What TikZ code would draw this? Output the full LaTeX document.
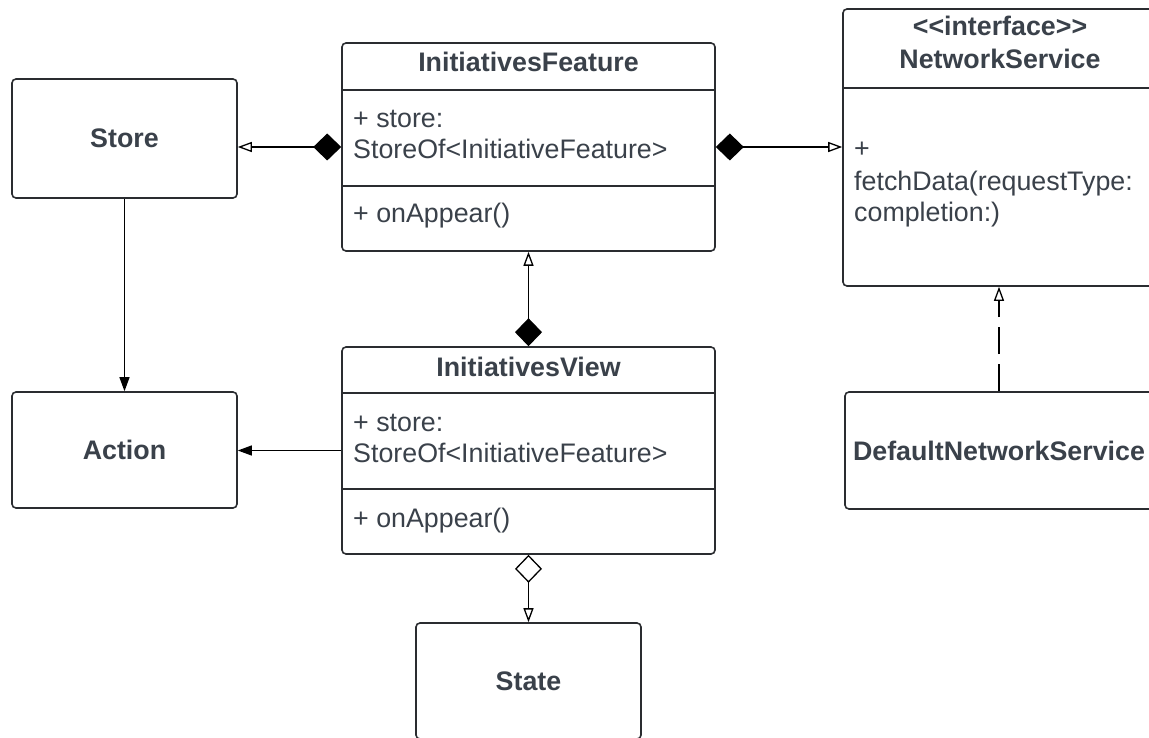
\documentclass[tikz,border=0pt]{standalone}
\usepackage{fontspec}
\setmainfont{Liberation Sans}
\usetikzlibrary{arrows.meta}
\definecolor{ink}{HTML}{3A414A}
\definecolor{edge}{HTML}{2A2C30}
\tikzset{
  box/.style={draw=edge, line width=1.6pt, rounded corners=4pt, fill=white, inner sep=0pt,
              font=\fontsize{26.8}{32}\selectfont\bfseries, text=ink},
  title/.style={font=\fontsize{26.8}{32}\selectfont\bfseries, text=ink, anchor=base, inner sep=0pt},
  member/.style={font=\fontsize{26.8}{32}\selectfont, text=ink, anchor=base west, inner sep=0pt},
  rule/.style={draw=edge, line width=1.6pt},
  link/.style={draw=black, line width=1.3pt},
  comp/.style={link, {Diamond[length=28pt,width=27pt,fill=black]}-{Triangle[open,length=14pt,width=10pt,fill=white]}},
  agg/.style={link, {Diamond[length=28pt,width=27pt,open,fill=white]}-{Triangle[open,length=14pt,width=10pt,fill=white]}},
  assoc/.style={link, -{Triangle[length=14pt,width=10pt]}},
  realize/.style={link, dash pattern=on 27pt off 10pt, -{Triangle[open,length=14pt,width=10pt,fill=white]}},
}
\begin{document}
\begin{tikzpicture}[x=1pt, y=-1pt]
  \useasboundingbox (0,0) rectangle (1149,738);
  \clip (0,0) rectangle (1149,738);
  \fill[white] (0,0) rectangle (1149,738);

  % plain boxes
  \node[box, minimum width=225pt, minimum height=119pt] (store)  at (124.5,138.5) {Store};
  \node[box, minimum width=225pt, minimum height=116pt] (action) at (124.5,450)   {Action};
  \node[box, minimum width=308pt, minimum height=117pt] (dns)    at (999,450.5)   {DefaultNetworkService};
  \node[box, minimum width=225pt, minimum height=116pt] (state)  at (528.5,681)   {State};

  % InitiativesFeature class
  \node[box, minimum width=373pt, minimum height=208pt] (feat) at (528.5,147) {};
  \node[title]  (featTitle) at (528.5,72) {InitiativesFeature};
  \draw[rule] (feat.west |- 0,90) -- (feat.east |- 0,90);
  \node[member] (featAttrA) at (353,128) {+ store:};
  \node[member] (featAttrB) at (353,159) {StoreOf<InitiativeFeature>};
  \draw[rule] (feat.west |- 0,186) -- (feat.east |- 0,186);
  \node[member] (featOp) at (353,223) {+ onAppear()};

  % InitiativesView class
  \node[box, minimum width=373pt, minimum height=207pt] (view) at (528.5,450.5) {};
  \node[title]  (viewTitle) at (528.5,376) {InitiativesView};
  \draw[rule] (view.west |- 0,393) -- (view.east |- 0,393);
  \node[member] (viewAttrA) at (353,431) {+ store:};
  \node[member] (viewAttrB) at (353,462) {StoreOf<InitiativeFeature>};
  \draw[rule] (view.west |- 0,489) -- (view.east |- 0,489);
  \node[member] (viewOp) at (353,527) {+ onAppear()};

  % NetworkService interface (kerns keep << and >> from becoming guillemets)
  \node[box, minimum width=314pt, minimum height=277pt] (net) at (1000,147.5) {};
  \node[title]  (netStereo) at (1000,36) {<\kern0pt<interface>\kern0pt>};
  \node[title]  (netTitle)  at (1000,69) {NetworkService};
  \draw[rule] (net.west |- 0,88) -- (net.east |- 0,88);
  \node[member] (netOpA) at (854,158) {+};
  \node[member] (netOpB) at (854,191) {fetchData(requestType:};
  \node[member] (netOpC) at (854,222) {completion:)};

  % relations
  \draw[comp]    (feat.west)  -- (store.east |- feat.west);
  \draw[comp]    (feat.east)  -- (net.west |- feat.east);
  \draw[comp]    (view.north) -- (feat.south);
  \draw[agg]     (view.south) -- (state.north);
  \draw[assoc]   (store.south) -- (action.north);
  \draw[assoc]   (view.west)  -- (action.east |- view.west);
  \draw[realize] (dns.north)  -- (dns.north |- net.south);
\end{tikzpicture}
\end{document}
